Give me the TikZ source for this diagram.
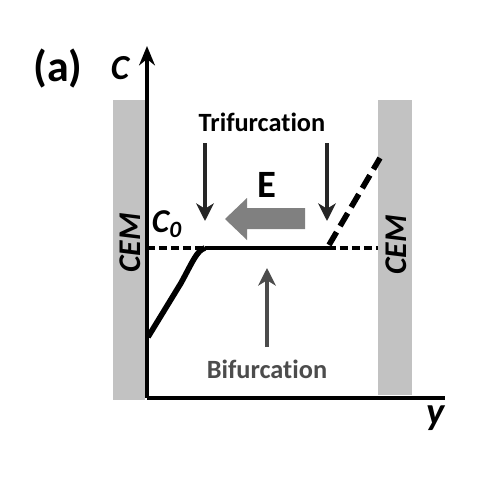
\documentclass[tikz,border=0pt]{standalone}
\usepackage{fontspec}
\setmainfont{Carlito}[Ligatures={NoCommon,NoRequired,NoContextual}]
\usetikzlibrary{arrows.meta}
\definecolor{membranegray}{gray}{0.76}
\definecolor{fieldgray}{gray}{0.50}
\definecolor{bifgray}{gray}{0.30}
\begin{document}
\begin{tikzpicture}[x=0.02cm, y=-0.02cm, font=\bfseries,
    membrane/.style={fill=membranegray, draw=none},
    cemlabel/.style={rotate=90, font=\fontsize{18}{20}\selectfont\bfseries\itshape},
    txt/.style={font=\fontsize{15}{17}\selectfont\bfseries},
    thinarrow/.style={line width=2pt, -{Stealth[length=10pt, width=10pt, inset=3pt]}}]
    \useasboundingbox (0,0) rectangle (501,487);
    % membranes
    \fill[membrane] (113,100) rectangle (145,400);
    \fill[membrane] (378,100) rectangle (412,395);
    \node[cemlabel] (cemL) at (130,243) {CEM};
    \node[cemlabel] (cemR) at (396,245) {CEM};
    % key points
    \coordinate (orig) at (147,398);
    \coordinate (top) at (147,46);
    \coordinate (xend) at (445,398);
    \coordinate (wallL) at (147,248);
    \coordinate (kneeL) at (205,248);
    \coordinate (kneeR) at (328,248);
    \coordinate (wallR) at (378,248);
    % axes
    \draw[line width=2.3pt, -{Stealth[length=11pt, width=9pt]}] (orig) -- (top);
    \draw[line width=2.3pt] (orig) -- (xend);
    \node (panel) at (58,69) {\fontsize{25}{27}\selectfont (a)};
    \node (clabel) at (120,68) {\fontsize{20}{22}\selectfont\itshape C};
    \node (ylabel) at (436,418) {\fontsize{22}{24}\selectfont\itshape y};
    % concentration profile
    \draw[line width=2pt, dash pattern=on 4.5pt off 2.3pt] (wallL) -- (kneeL);
    \draw[line width=2pt, dash pattern=on 4.5pt off 2.3pt] (kneeR) -- (wallR);
    \draw[line width=2.8pt] (kneeL) -- (kneeR);
    \draw[line width=3.2pt] (148,337) -- (181,283) .. controls (192,263) and (197,250) .. (kneeL);
    \draw[line width=3.2pt, dash pattern=on 8.5pt off 4pt] (329,245) -- (380,158);
    \node (c0) at (167,224) {\fontsize{19}{21}\selectfont\itshape C\textsubscript{0}};
    % field
    \fill[fieldgray] (305,208) -- (247,208) -- (247,198) -- (225,219)
        -- (247,240) -- (247,229) -- (305,229) -- cycle;
    \node (field) at (267,185) {\fontsize{22}{24}\selectfont E};
    % bifurcation points
    \node[txt] (tri) at (262,122) {Trifurcation};
    \draw[thinarrow, black!85] (205,143) -- (205,221);
    \draw[thinarrow, black!85] (327,143) -- (327,221);
    \node[txt, text=bifgray] (bif) at (267,369) {Bifurcation};
    \draw[thinarrow, bifgray] (267,347) -- (267,268);
\end{tikzpicture}
\end{document}
